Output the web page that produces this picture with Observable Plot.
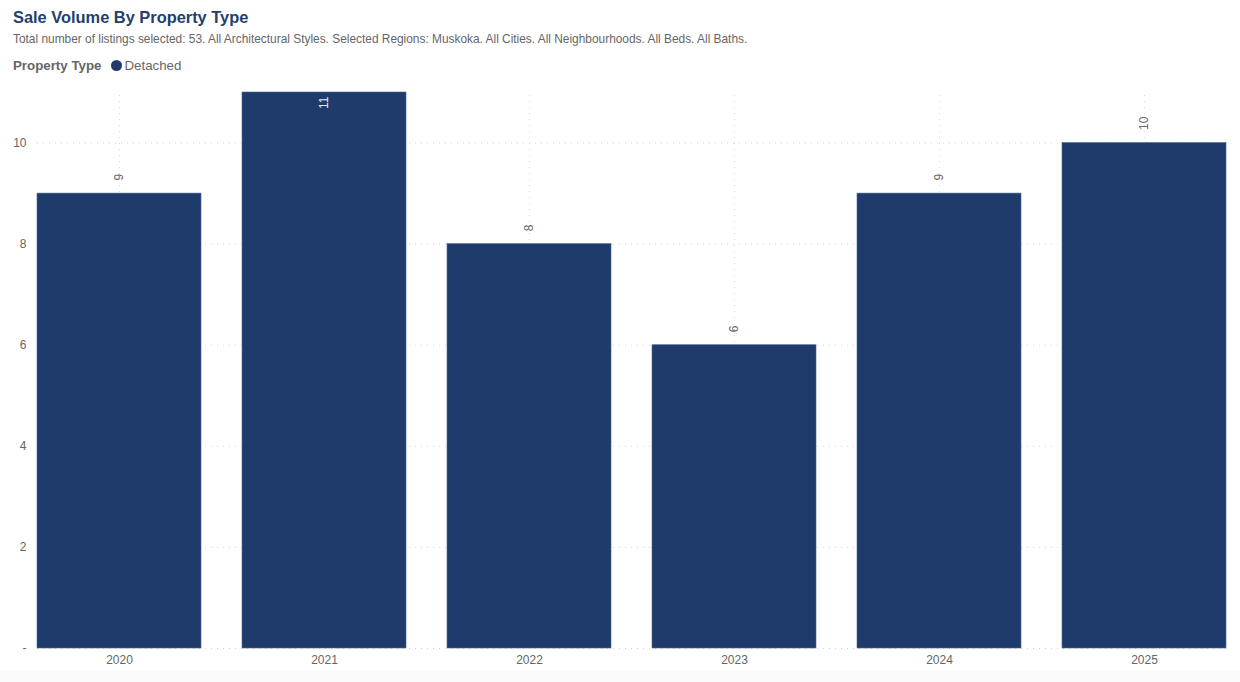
<!DOCTYPE html>
<html>
<head>
<meta charset="utf-8">
<script src="https://cdn.jsdelivr.net/npm/d3@7"></script>
<script src="https://cdn.jsdelivr.net/npm/@observablehq/plot@0.6"></script>
<style>
  html, body { margin: 0; padding: 0; background: #fff; font-family: "Liberation Sans", Arial, sans-serif; }
  #wrap { width: 1240px; height: 682px; position: relative; overflow: hidden; }
  #title { position: absolute; left: 13px; top: 8px; font-size: 16.4px; font-weight: bold; color: #243f6f; }
  #subtitle { position: absolute; left: 13px; top: 32px; font-size: 11.9px; color: #666; }
  #legend { position: absolute; left: 13px; top: 58px; font-size: 13.3px; color: #666; display: flex; align-items: center; }
  #legend b { margin-right: 10px; }
  #legend .dot { width: 11px; height: 11px; border-radius: 50%; background: #1f3b6b; margin-right: 2px; display: inline-block; }
  #chart { position: absolute; left: 0; top: 80px; }
  #foot { position: absolute; left: 0; top: 670px; width: 1240px; height: 12px; background: #fafafa; }
</style>
</head>
<body>
<div id="wrap">
  <div id="title">Sale Volume By Property Type</div>
  <div id="subtitle">Total number of listings selected: 53. All Architectural Styles. Selected Regions: Muskoka. All Cities. All Neighbourhoods. All Beds. All Baths.</div>
  <div id="legend"><b>Property Type</b><span class="dot"></span><span>Detached</span></div>
  <div id="foot"></div>
  <div id="chart"></div>
</div>
<script>
const years = ["2020", "2021", "2022", "2023", "2024", "2025"];
const detached = [9, 11, 8, 6, 9, 10];
const yTicks = [0, 2, 4, 6, 8, 10];

const data = years.map((y, i) => ({year: y, value: detached[i]}));
const maxV = d3.max(detached);
const outside = data.filter(d => d.value < maxV);
const inside = data.filter(d => d.value === maxV);

const chart = Plot.plot({
  width: 1240,
  height: 602,
  marginLeft: 37,
  marginRight: 14,
  marginTop: 12,
  marginBottom: 34,
  style: {fontFamily: "'Liberation Sans', Arial, sans-serif", fontSize: "12px", color: "#666", background: "transparent"},
  x: {domain: years, paddingInner: 0.2, paddingOuter: 0, label: null, tickSize: 0, tickPadding: 7},
  y: {domain: [0, 11], ticks: yTicks, label: null, tickSize: 0, tickPadding: 11, tickFormat: d => d === 0 ? "-" : String(d)},
  marks: [
    Plot.ruleY(yTicks, {stroke: "#d4d4d4", strokeDasharray: "1,5", strokeWidth: 1}),
    Plot.ruleX(years, {x: d => d, stroke: "#dcdcdc", strokeDasharray: "1,5", strokeWidth: 1, y1: 0, y2: 11}),
    Plot.barY(data, {x: "year", y: "value", fill: "#1f3b6b", stroke: "#4a6797", strokeWidth: 0.6}),
    Plot.text(outside, {x: "year", y: "value", text: d => String(d.value), rotate: -90, textAnchor: "start", dy: -13, fill: "#666", fontSize: 12}),
    Plot.text(inside, {x: "year", y: "value", text: d => String(d.value), rotate: -90, textAnchor: "end", dy: 4, fill: "#e8ecf2", fontSize: 12})
  ]
});
document.getElementById("chart").appendChild(chart);
</script>
</body>
</html>
